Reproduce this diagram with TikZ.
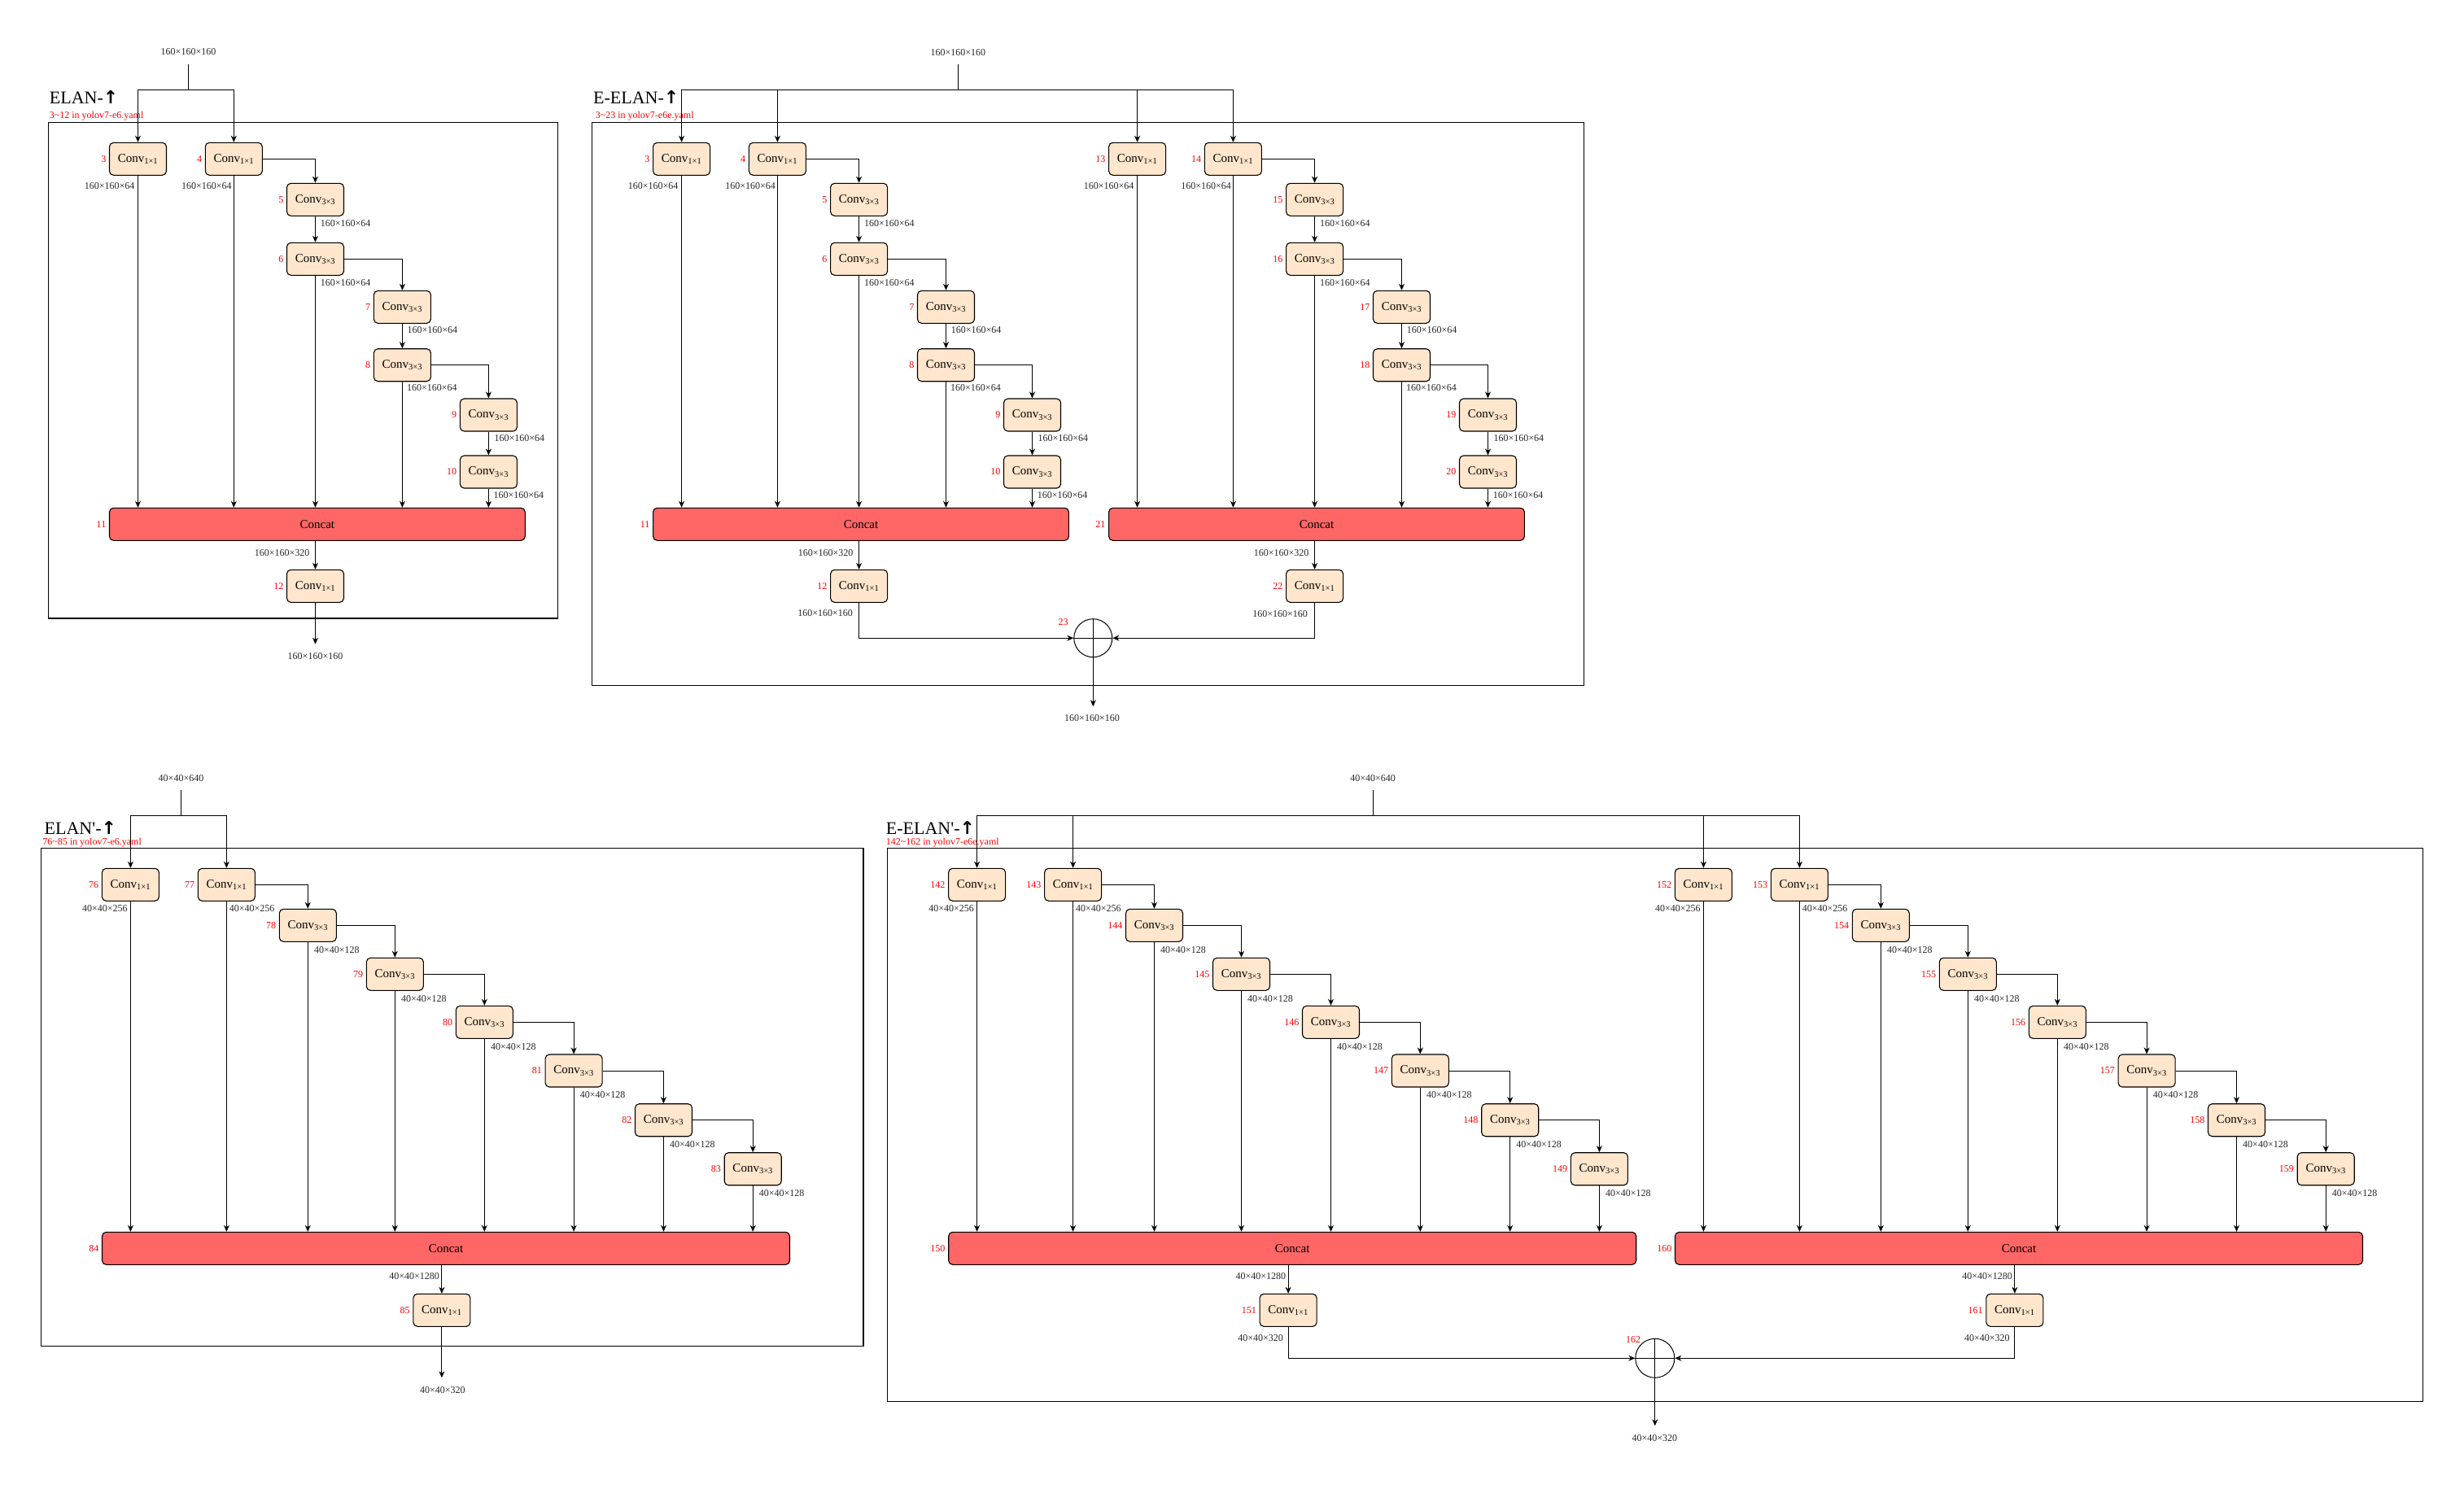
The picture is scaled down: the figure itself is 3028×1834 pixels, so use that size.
\documentclass[tikz,border=0pt]{standalone}
\usepackage{fontspec}
\setmainfont{Liberation Serif}
\newfontfamily\symfont{DejaVu Sans}
\usetikzlibrary{arrows.meta}
\definecolor{boxfill}{HTML}{FFE6CC}
\definecolor{catfill}{HTML}{FF6666}
\definecolor{numred}{HTML}{FF0000}

\tikzset{
  cbox/.style={draw=black, line width=1.1pt, fill=boxfill, rounded corners=5pt,
    minimum width=70pt, minimum height=40pt, inner sep=0pt, font=\fontsize{15}{18}\selectfont},
  catbox/.style={draw=black, line width=1.1pt, fill=catfill, rounded corners=5pt,
    minimum height=40pt, inner sep=0pt, font=\fontsize{15}{18}\selectfont},
  num/.style={text=numred, font=\fontsize{12}{14}\selectfont, inner sep=0.5pt, anchor=east},
  dim/.style={font=\fontsize{12}{14}\selectfont, inner sep=0.5pt, text=black!85},
  inlab/.style={dim, outer sep=10pt},
  ttl/.style={font=\fontsize{22}{26}\selectfont, inner sep=0pt, anchor=base west},
  subttl/.style={font=\fontsize{12}{14}\selectfont, text=numred, inner sep=0pt, anchor=base west},
  frame/.style={draw=black, line width=1.2pt},
  arr/.style={draw=black, line width=0.9pt, -{Stealth[length=8pt,width=7pt,inset=2.5pt]}},
  wire/.style={draw=black, line width=0.9pt},
  sumc/.style={circle, draw=black, line width=1pt, minimum size=47pt, inner sep=0pt},
}

% ELAN block: #1 prefix, #2 x offset, #3 first layer number
\newcommand\elanblk[3]{%
\begin{scope}[shift={(#2,0)}]
\node[cbox] (#1b1) at (169.5,195.3) {Conv\textsubscript{1×1}};
\node[cbox] (#1b2) at (287.3,195.3) {Conv\textsubscript{1×1}};
\node[cbox] (#1b3) at (387.5,245.3) {Conv\textsubscript{3×3}};
\node[cbox] (#1b4) at (387.5,318.3) {Conv\textsubscript{3×3}};
\node[cbox] (#1b5) at (494.4,377.3) {Conv\textsubscript{3×3}};
\node[cbox] (#1b6) at (494.4,448.7) {Conv\textsubscript{3×3}};
\node[cbox] (#1b7) at (600.4,510) {Conv\textsubscript{3×3}};
\node[cbox] (#1b8) at (600.4,580) {Conv\textsubscript{3×3}};
\node[catbox, minimum width=510.8pt] (#1cat) at (389.9,644.3) {Concat};
\node[cbox] (#1out) at (387.5,720.3) {Conv\textsubscript{1×1}};
\end{scope}
\foreach \k/\n in {b1/0,b2/1,b3/2,b4/3,b5/4,b6/5,b7/6,b8/7,cat/8,out/9}
  {\node[num] (#1n\k) at ([xshift=-3pt]#1\k.west) {\the\numexpr#3+\n\relax};}
\node[dim, anchor=east] (#1db1) at ([shift={(-3.5,33.7)}]#1b1.center) {160×160×64};
\node[dim, anchor=east] (#1db2) at ([shift={(-1.9,33.7)}]#1b2.center) {160×160×64};
\foreach \k/\ddx/\ddy in {b3/5.7/29.4, b4/5.7/29, b5/5.6/28, b6/5/28, b7/6.4/28.3, b8/5.6/28.3}
  {\node[dim, anchor=west] (#1d\k) at ([shift={(\ddx,\ddy)}]#1\k.center) {160×160×64};}
\node[dim, anchor=east] (#1dcat) at ([shift={(-6.5,-41)}]#1out.center) {160×160×320};
\draw[arr] (#1b2.east) -| (#1b3.north);
\draw[arr] (#1b3) -- (#1b4);
\draw[arr] (#1b4.east) -| (#1b5.north);
\draw[arr] (#1b5) -- (#1b6);
\draw[arr] (#1b6.east) -| (#1b7.north);
\draw[arr] (#1b7) -- (#1b8);
\foreach \k in {b1,b2,b4,b6,b8}
  {\draw[arr] (#1\k.south) -- (#1\k.south |- #1cat.north);}
\draw[arr] (#1cat.south -| #1out.north) -- (#1out.north);
}

% ELAN' block: #1 prefix, #2 x offset, #3 first layer number
\newcommand\elanpblk[3]{%
\begin{scope}[shift={(#2,0)}]
\node[cbox] (#1c1) at (160.4,1087.3) {Conv\textsubscript{1×1}};
\node[cbox] (#1c2) at (278.4,1087.3) {Conv\textsubscript{1×1}};
\node[cbox] (#1c3) at (378.3,1137.3) {Conv\textsubscript{3×3}};
\node[cbox] (#1c4) at (485.3,1197.3) {Conv\textsubscript{3×3}};
\node[cbox] (#1c5) at (595.3,1256.3) {Conv\textsubscript{3×3}};
\node[cbox] (#1c6) at (705.1,1316) {Conv\textsubscript{3×3}};
\node[cbox] (#1c7) at (815.5,1376.7) {Conv\textsubscript{3×3}};
\node[cbox] (#1c8) at (925.2,1436.7) {Conv\textsubscript{3×3}};
\node[catbox, minimum width=845pt] (#1cat) at (548,1534.3) {Concat};
\node[cbox] (#1out) at (542.9,1610.3) {Conv\textsubscript{1×1}};
\end{scope}
\foreach \k/\n in {c1/0,c2/1,c3/2,c4/3,c5/4,c6/5,c7/6,c8/7,cat/8,out/9}
  {\node[num] (#1n\k) at ([xshift=-3pt]#1\k.west) {\the\numexpr#3+\n\relax};}
\node[dim, anchor=east] (#1dc1) at ([shift={(-3,29.4)}]#1c1.center) {40×40×256};
\node[dim, anchor=west] (#1dc2) at ([shift={(2.7,29.4)}]#1c2.center) {40×40×256};
\foreach \k in {c3,c4,c5,c6,c7,c8}
  {\node[dim, anchor=west] (#1d\k) at ([shift={(7,30)}]#1\k.center) {40×40×128};}
\node[dim, anchor=east] (#1dcat) at ([shift={(-2.3,-42)}]#1out.center) {40×40×1280};
\foreach \a/\b in {c2/c3,c3/c4,c4/c5,c5/c6,c6/c7,c7/c8}
  {\draw[arr] (#1\a.east) -| (#1\b.north);}
\foreach \k in {c1,c2,c3,c4,c5,c6,c7,c8}
  {\draw[arr] (#1\k.south) -- (#1\k.south |- #1cat.north);}
\draw[arr] (#1cat.south -| #1out.north) -- (#1out.north);
}

\begin{document}
\begin{tikzpicture}[x=1pt,y=-1pt]
\useasboundingbox (0,0) rectangle (3028,1834);
\fill[white] (0,0) rectangle (3028,1834);

% ---------- frames ----------
\draw[frame] (59.5,150.3) rectangle (685.5,760);
\draw[frame] (727.5,150.3) rectangle (1946.6,842.3);
\draw[frame] (50.3,1042.3) rectangle (1061,1654.3);
\draw[frame] (1090.7,1042.3) rectangle (2977.4,1722.3);

% ---------- titles ----------
\node[ttl] (tA) at (60.7,127.3) {ELAN-{\symfont\bfseries ↑}};
\node[subttl] (sA) at (60.7,145.3) {3\textasciitilde12 in yolov7-e6.yaml};
\node[ttl] (tE) at (729,127.3) {E-ELAN-{\symfont\bfseries ↑}};
\node[subttl] (sE) at (731.6,145.3) {3\textasciitilde23 in yolov7-e6e.yaml};
\node[ttl] (tP) at (54.5,1025) {ELAN\textquotesingle-{\symfont\bfseries ↑}};
\node[subttl] (sP) at (52.2,1038.7) {76\textasciitilde85 in yolov7-e6.yaml};
\node[ttl] (tQ) at (1088.7,1025) {E-ELAN\textquotesingle-{\symfont\bfseries ↑}};
\node[subttl] (sQ) at (1088.7,1038.7) {142\textasciitilde162 in yolov7-e6e.yaml};

% ---------- ELAN ----------
\elanblk{A}{0}{3}
\node[inlab] (A-in) at (231.5,64) {160×160×160};
\coordinate (A-j) at (231.5,110.3);
\draw[wire] (A-in.south) -- (A-j);
\draw[arr] (A-j) -| (Ab1);
\draw[arr] (A-j) -| (Ab2);
\coordinate (A-tip) at (387.5,791.7);
\draw[arr] (Aout) -- (A-tip);
\node[dim] (A-o) at (387.5,806.7) {160×160×160};

% ---------- E-ELAN ----------
\elanblk{EL}{668.1}{3}
\elanblk{ER}{1228.1}{13}
\node[dim, anchor=east] (ELdout) at ([shift={(-7,33)}]ELout.center) {160×160×160};
\node[dim, anchor=east] (ERdout) at ([shift={(-8,34)}]ERout.center) {160×160×160};
\node[inlab] (E-in) at (1177.3,64.3) {160×160×160};
\coordinate (E-j) at (1177.3,110.3);
\draw[wire] (E-in.south) -- (E-j);
\draw[arr] (E-j) -| (ELb1);
\draw[arr] (E-j) -| (ELb2);
\draw[arr] (E-j) -| (ERb1);
\draw[arr] (E-j) -| (ERb2);
\node[sumc] (E-sum) at (1343.3,784.2) {};
\draw[wire] (E-sum.north) -- (E-sum.south) (E-sum.west) -- (E-sum.east);
\node[num, anchor=center] (E-n) at (1306.7,765) {23};
\draw[arr] (ELout) |- (E-sum);
\draw[arr] (ERout) |- (E-sum);
\coordinate (E-tip) at (1343.3,868.3);
\draw[arr] (E-sum.south) -- (E-tip);
\node[dim] (E-o) at (1342,882.5) {160×160×160};

% ---------- ELAN' ----------
\elanpblk{P}{0}{76}
\node[inlab] (P-in) at (222.5,956.7) {40×40×640};
\coordinate (P-j) at (222.5,1002.3);
\draw[wire] (P-in.south) -- (P-j);
\draw[arr] (P-j) -| (Pc1);
\draw[arr] (P-j) -| (Pc2);
\coordinate (P-tip) at (542.9,1693.3);
\draw[arr] (Pout) -- (P-tip);
\node[dim] (P-o) at (543.8,1708.3) {40×40×320};

% ---------- E-ELAN' ----------
\elanpblk{QL}{1040.2}{142}
\elanpblk{QR}{1933}{152}
\node[dim, anchor=east] (QLdout) at ([shift={(-5.6,34.7)}]QLout.center) {40×40×320};
\node[dim, anchor=east] (QRdout) at ([shift={(-5.6,34.7)}]QRout.center) {40×40×320};
\node[inlab] (Q-in) at (1687,956.7) {40×40×640};
\coordinate (Q-j) at (1687,1002.3);
\draw[wire] (Q-in.south) -- (Q-j);
\draw[arr] (Q-j) -| (QLc1);
\draw[arr] (Q-j) -| (QLc2);
\draw[arr] (Q-j) -| (QRc1);
\draw[arr] (Q-j) -| (QRc2);
\node[sumc, minimum size=48pt] (Q-sum) at (2033.8,1669.3) {};
\draw[wire] (Q-sum.north) -- (Q-sum.south) (Q-sum.west) -- (Q-sum.east);
\node[num, anchor=center] (Q-n) at (2007,1647) {162};
\draw[arr] (QLout) |- (Q-sum);
\draw[arr] (QRout) |- (Q-sum);
\coordinate (Q-tip) at (2033.8,1752.3);
\draw[arr] (Q-sum.south) -- (Q-tip);
\node[dim] (Q-o) at (2033.4,1767.7) {40×40×320};
\end{tikzpicture}
\end{document}
